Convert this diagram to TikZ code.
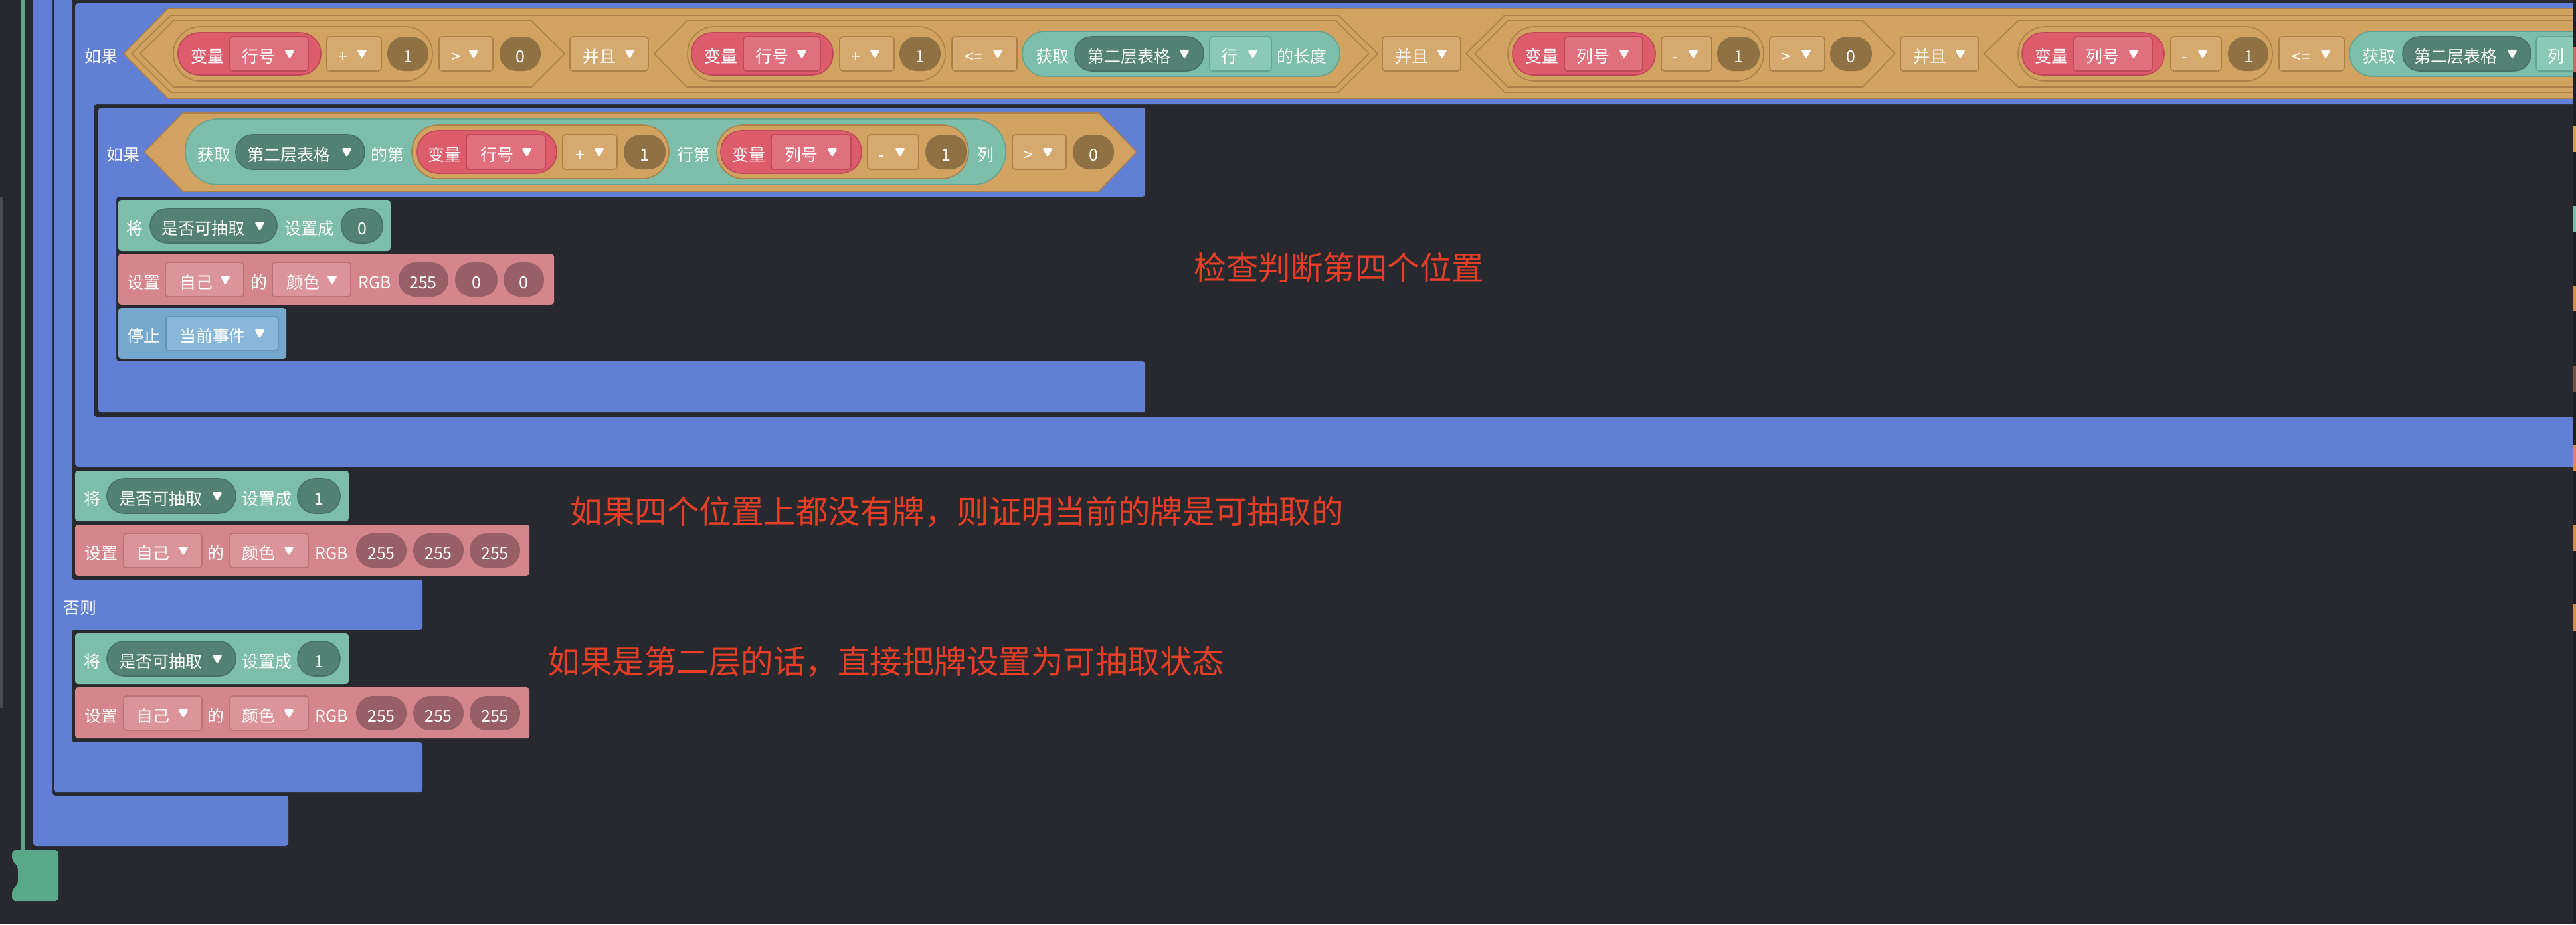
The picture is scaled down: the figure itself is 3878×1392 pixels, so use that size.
\documentclass[tikz,border=0pt]{standalone}
\usepackage{fontspec}
\newfontfamily\cjkfont{Noto Sans CJK SC}
\definecolor{bgdark}{RGB}{40,41,46}
\definecolor{scrollgray}{RGB}{74,75,80}
\definecolor{edgedark}{RGB}{30,31,35}
\definecolor{edgeorange}{RGB}{210,140,80}
\definecolor{edgebrown}{RGB}{110,84,70}
\definecolor{evgreen}{RGB}{88,168,138}
\definecolor{ctlblue}{RGB}{97,127,212}
\definecolor{logic}{RGB}{209,162,96}
\definecolor{logicbox}{RGB}{214,170,110}
\definecolor{logicline}{RGB}{172,128,72}
\definecolor{numbrown}{RGB}{143,113,68}
\definecolor{varred}{RGB}{220,92,108}
\definecolor{varbox}{RGB}{225,112,126}
\definecolor{varline}{RGB}{188,72,88}
\definecolor{tealc}{RGB}{124,190,170}
\definecolor{tealline}{RGB}{100,164,145}
\definecolor{tealdark}{RGB}{83,130,116}
\definecolor{tealdarkline}{RGB}{70,112,100}
\definecolor{teallight}{RGB}{139,200,182}
\definecolor{pinkc}{RGB}{212,134,140}
\definecolor{pinkbox}{RGB}{219,148,153}
\definecolor{pinkline}{RGB}{190,112,118}
\definecolor{pinknum}{RGB}{152,96,102}
\definecolor{stopc}{RGB}{118,168,206}
\definecolor{stopbox}{RGB}{137,183,217}
\definecolor{stopline}{RGB}{100,148,188}
\definecolor{notered}{RGB}{232,62,38}
\newcommand{\dropmark}[2]{\fill[white,rounded corners=0.3mm] (#1-8,#2-6) -- (#1+8,#2-6) -- (#1,#2+8) -- cycle;}

\begin{document}
\begin{tikzpicture}[x=0.1mm,y=-0.1mm,line join=round,
  lbl/.style={text=white,inner sep=0pt,font=\cjkfont\fontsize{7.1pt}{8pt}\selectfont,text height=0.88em,text depth=0.12em},
  note/.style={text=notered,inner sep=0pt,anchor=west,font=\cjkfont\fontsize{13.8pt}{16pt}\selectfont,text height=0.88em,text depth=0.12em},
  ctl/.style={fill=ctlblue,rounded corners=0.45mm},
  hexb/.style={fill=logic,draw=logicline,line width=0.45pt},
  opbox/.style={fill=logicbox,draw=logicline,line width=0.45pt,rounded corners=0.45mm},
  numc/.style={fill=numbrown,rounded corners=2.55mm},
  varpill/.style={fill=varred,draw=varline,line width=0.45pt,rounded corners=3.15mm},
  varfield/.style={fill=varbox,draw=varline,line width=0.45pt,rounded corners=0.45mm},
  logpill/.style={fill=logic,draw=logicline,line width=0.45pt,rounded corners=4.05mm},
  tealpill/.style={fill=tealc,draw=tealline,line width=0.45pt},
  tealdrop/.style={fill=tealdark,draw=tealdarkline,line width=0.45pt,rounded corners=2.55mm},
  tealfield/.style={fill=teallight,draw=tealline,line width=0.45pt,rounded corners=0.45mm},
  setblk/.style={fill=tealc,rounded corners=0.45mm},
  colblk/.style={fill=pinkc,rounded corners=0.45mm},
  colfield/.style={fill=pinkbox,draw=pinkline,line width=0.45pt,rounded corners=0.45mm},
  colnum/.style={fill=pinknum,rounded corners=2.55mm},
  stopblk/.style={fill=stopc,rounded corners=0.45mm},
  stopfield/.style={fill=stopbox,draw=stopline,line width=0.45pt,rounded corners=0.45mm}]
\fill[bgdark] (0,0) rectangle (3878,1392);
\useasboundingbox (0,0) rectangle (3878,1392);
\fill[scrollgray] (0,297) rectangle (4,1066);
% event hat arm and foot
\fill[evgreen] (31,-5) rectangle (37,1284);
\fill[evgreen,rounded corners=0.5mm] (18,1280) -- (88,1280) -- (88,1357) -- (18,1357) -- (18,1341) -- (27,1331) -- (27,1305) -- (18,1295) -- cycle;
% control blocks
\fill[ctl] (50,-10) -- (79,-10) -- (79,1198) -- (434,1198) -- (434,1274) -- (50,1274) -- cycle;
\fill[ctl] (82,-10) -- (108,-10) -- (108,873) -- (636,873) -- (636,948) -- (108,948) -- (108,1118) -- (636,1118) -- (636,1193) -- (82,1193) -- cycle;
\fill[ctl] (113,5) -- (3900,5) -- (3900,157) -- (141,157) -- (141,628) -- (3900,628) -- (3900,703) -- (113,703) -- cycle;
\fill[ctl] (148,162) -- (1724,162) -- (1724,296) -- (175,296) -- (175,544) -- (1724,544) -- (1724,621) -- (148,621) -- cycle;
% first condition row
\node[lbl] (ifa) at (152,81) {如果};
\draw[hexb] (186,81) -- (253,13) -- (3900,13) -- (3900,148) -- (253,148) -- cycle;
\draw[hexb] (198,81) -- (257,23) -- (2015,23) -- (2074,81) -- (2015,139) -- (257,139) -- cycle;
\draw[hexb] (2207,81) -- (2265,23) -- (3900,23) -- (3900,139) -- (2265,139) -- cycle;
\draw[hexb] (211,81) -- (261,31) -- (800,31) -- (850,81) -- (800,131) -- (261,131) -- cycle;
\draw[hexb] (985,81) -- (1034,31) -- (2011,31) -- (2061,81) -- (2011,131) -- (1034,131) -- cycle;
\draw[hexb] (2220,81) -- (2270,31) -- (2804,31) -- (2853,81) -- (2804,131) -- (2270,131) -- cycle;
\draw[hexb] (2987,81) -- (3038,31) -- (3900,31) -- (3900,131) -- (3038,131) -- cycle;
\draw[logpill] (261,40) rectangle (651,122);
\draw[varpill] (268,49) rectangle (483,113);
\node[lbl] (vara) at (312,81) {变量};
\draw[varfield] (346,55) rectangle (464,107);
\node[lbl] (rowa) at (389,81) {行号}; \dropmark{436}{81}
\draw[opbox] (492,55) rectangle (574,107);
\node[lbl] (plusa) at (516,81) {+}; \dropmark{545}{81}
\fill[numc] (583,55) rectangle (645,107);
\node[lbl] (onea) at (614,81) {1};
\draw[opbox] (661,55) rectangle (742,107);
\node[lbl] (gta) at (686,81) {>}; \dropmark{713}{81}
\fill[numc] (752,55) rectangle (814,107);
\node[lbl] (zeroa) at (783,81) {0};
\draw[opbox] (858,55) rectangle (976,107);
\node[lbl] (anda) at (902,81) {并且}; \dropmark{948}{81}
\draw[logpill] (1035,40) rectangle (1423,122);
\draw[varpill] (1041,49) rectangle (1254,113);
\node[lbl] (varb) at (1085,81) {变量};
\draw[varfield] (1119,55) rectangle (1235,107);
\node[lbl] (rowb) at (1162,81) {行号}; \dropmark{1207}{81}
\draw[opbox] (1264,55) rectangle (1346,107);
\node[lbl] (plusb) at (1288,81) {+}; \dropmark{1317}{81}
\fill[numc] (1354,55) rectangle (1416,107);
\node[lbl] (oneb) at (1385,81) {1};
\draw[opbox] (1433,55) rectangle (1531,107);
\node[lbl] (leb) at (1466,81) {<=}; \dropmark{1502}{81}
\draw[tealpill,rounded corners=3.4mm] (1539,47) rectangle (2017,115);
\node[lbl] (getb) at (1584,81) {获取};
\draw[tealdrop] (1618,55) rectangle (1812,107);
\node[lbl] (tabb) at (1700,81) {第二层表格}; \dropmark{1783}{81}
\draw[tealfield] (1821,55) rectangle (1914,107);
\node[lbl] (lineb) at (1851,81) {行}; \dropmark{1886}{81}
\node[lbl] (lenb) at (1960,81) {的长度};
\draw[opbox] (2081,55) rectangle (2199,107);
\node[lbl] (andb) at (2125,81) {并且}; \dropmark{2171}{81}
\draw[logpill] (2270,40) rectangle (2655,122);
\draw[varpill] (2277,49) rectangle (2492,113);
\node[lbl] (varc) at (2321,81) {变量};
\draw[varfield] (2355,55) rectangle (2473,107);
\node[lbl] (colc) at (2398,81) {列号}; \dropmark{2445}{81}
\draw[opbox] (2501,55) rectangle (2577,107);
\node[lbl] (minusc) at (2522,81) {-}; \dropmark{2549}{81}
\fill[numc] (2585,55) rectangle (2649,107);
\node[lbl] (onec) at (2617,81) {1};
\draw[opbox] (2664,55) rectangle (2747,107);
\node[lbl] (gtc) at (2688,81) {>}; \dropmark{2719}{81}
\fill[numc] (2755,55) rectangle (2818,107);
\node[lbl] (zeroc) at (2786,81) {0};
\draw[opbox] (2861,55) rectangle (2979,107);
\node[lbl] (andc) at (2905,81) {并且}; \dropmark{2951}{81}
\draw[logpill] (3038,40) rectangle (3421,122);
\draw[varpill] (3044,49) rectangle (3258,113);
\node[lbl] (vard) at (3088,81) {变量};
\draw[varfield] (3122,55) rectangle (3240,107);
\node[lbl] (cold) at (3165,81) {列号}; \dropmark{3212}{81}
\draw[opbox] (3268,55) rectangle (3344,107);
\node[lbl] (minusd) at (3289,81) {-}; \dropmark{3316}{81}
\fill[numc] (3354,55) rectangle (3415,107);
\node[lbl] (oned) at (3385,81) {1};
\draw[opbox] (3431,55) rectangle (3529,107);
\node[lbl] (led) at (3464,81) {<=}; \dropmark{3501}{81}
\draw[tealpill,rounded corners=3.4mm] (3537,47) rectangle (3960,115);
\node[lbl] (getd) at (3581,81) {获取};
\draw[tealdrop] (3617,55) rectangle (3810,107);
\node[lbl] (tabd) at (3697,81) {第二层表格}; \dropmark{3782}{81}
\draw[tealfield] (3818,55) rectangle (3960,107);
\node[lbl] (lined) at (3848,81) {列};
% second condition row
\node[lbl] (ifb) at (185,229) {如果};
\draw[hexb] (218,229) -- (275,170) -- (1654,170) -- (1711,229) -- (1654,288) -- (275,288) -- cycle;
\draw[tealpill,rounded corners=4.9mm] (279,179) rectangle (1514,278);
\node[lbl] (gete) at (322,229) {获取};
\draw[tealdrop] (355,203) rectangle (549,255);
\node[lbl] (tabe) at (435,229) {第二层表格}; \dropmark{522}{229}
\node[lbl] (nthe) at (583,229) {的第};
\draw[logpill] (620,188) rectangle (1007,269);
\draw[varpill] (628,197) rectangle (838,261);
\node[lbl] (vare) at (669,229) {变量};
\draw[varfield] (702,203) rectangle (821,255);
\node[lbl] (rowe) at (748,229) {行号}; \dropmark{793}{229}
\draw[opbox] (847,203) rectangle (929,255);
\node[lbl] (pluse) at (873,229) {+}; \dropmark{902}{229}
\fill[numc] (939,203) rectangle (1002,255);
\node[lbl] (onee) at (970,229) {1};
\node[lbl] (rowthe) at (1044,229) {行第};
\draw[logpill] (1079,188) rectangle (1458,269);
\draw[varpill] (1085,197) rectangle (1297,261);
\node[lbl] (varf) at (1127,229) {变量};
\draw[varfield] (1161,203) rectangle (1281,255);
\node[lbl] (colf) at (1206,229) {列号}; \dropmark{1253}{229}
\draw[opbox] (1306,203) rectangle (1383,255);
\node[lbl] (minusf) at (1327,229) {-}; \dropmark{1355}{229}
\fill[numc] (1393,203) rectangle (1456,255);
\node[lbl] (onef) at (1424,229) {1};
\node[lbl] (colthf) at (1484,229) {列};
\draw[opbox] (1524,203) rectangle (1605,255);
\node[lbl] (gtf) at (1548,229) {>}; \dropmark{1577}{229}
\fill[numc] (1615,203) rectangle (1677,255);
\node[lbl] (zerof) at (1646,229) {0};
% inner stack
\fill[setblk] (178,301) rectangle (588,378);
\node[lbl] (seta) at (203,340) {将};
\draw[tealdrop] (226,314) rectangle (417,366);
\node[lbl] (flaga) at (306,340) {是否可抽取}; \dropmark{391}{340}
\node[lbl] (toa) at (466,340) {设置成};
\draw[tealdrop] (514,314) rectangle (576,366);
\node[lbl] (vala) at (545,340) {0};
\fill[colblk] (178,382) rectangle (834,459);
\node[lbl] (paina) at (216,421) {设置};
\draw[colfield] (249,395) rectangle (367,447);
\node[lbl] (selfa) at (295,421) {自己}; \dropmark{339}{421}
\node[lbl] (ofa) at (390,421) {的};
\draw[colfield] (410,395) rectangle (528,447);
\node[lbl] (huea) at (456,421) {颜色}; \dropmark{500}{421}
\node[lbl] (rgba) at (564,421) {RGB};
\fill[colnum] (600,395) rectangle (675,447);
\node[lbl] (ra) at (637,421) {255};
\fill[colnum] (685,395) rectangle (749,447);
\node[lbl] (ga) at (717,421) {0};
\fill[colnum] (758,395) rectangle (819,447);
\node[lbl] (ba) at (788,421) {0};
\fill[stopblk] (178,464) rectangle (431,540);
\node[lbl] (halt) at (216,502) {停止};
\draw[stopfield] (250,477) rectangle (419,528);
\node[lbl] (evt) at (320,502) {当前事件}; \dropmark{391}{502}
% after the checks
\begin{scope}[shift={(0,0)}]
\fill[setblk] (113,709) rectangle (525,785);
\node[lbl] (setb) at (139,747) {将};
\draw[tealdrop] (161,721) rectangle (355,773);
\node[lbl] (flagb) at (242,747) {是否可抽取}; \dropmark{327}{747}
\node[lbl] (tob) at (402,747) {设置成};
\draw[tealdrop] (448,721) rectangle (512,773);
\node[lbl] (valb) at (480,747) {1};
\fill[colblk] (113,790) rectangle (797,867);
\node[lbl] (paintb) at (152,829) {设置};
\draw[colfield] (186,803) rectangle (304,855);
\node[lbl] (selfb) at (230,829) {自己}; \dropmark{276}{829}
\node[lbl] (ofb) at (325,829) {的};
\draw[colfield] (346,803) rectangle (464,855);
\node[lbl] (hueb) at (389,829) {颜色}; \dropmark{435}{829}
\node[lbl] (rgbb) at (499,829) {RGB};
\fill[colnum] (536,803) rectangle (612,855);
\node[lbl] (rb) at (574,829) {255};
\fill[colnum] (622,803) rectangle (698,855);
\node[lbl] (gb) at (660,829) {255};
\fill[colnum] (707,803) rectangle (783,855);
\node[lbl] (bb) at (745,829) {255};
\end{scope}
\node[lbl] (elsec) at (120,911) {否则};
\begin{scope}[shift={(0,245)}]
\fill[setblk] (113,709) rectangle (525,785);
\node[lbl] (setc) at (139,747) {将};
\draw[tealdrop] (161,721) rectangle (355,773);
\node[lbl] (flagc) at (242,747) {是否可抽取}; \dropmark{327}{747}
\node[lbl] (toc) at (402,747) {设置成};
\draw[tealdrop] (448,721) rectangle (512,773);
\node[lbl] (valc) at (480,747) {1};
\fill[colblk] (113,790) rectangle (797,867);
\node[lbl] (paintc) at (152,829) {设置};
\draw[colfield] (186,803) rectangle (304,855);
\node[lbl] (selfc) at (230,829) {自己}; \dropmark{276}{829}
\node[lbl] (ofc) at (325,829) {的};
\draw[colfield] (346,803) rectangle (464,855);
\node[lbl] (huec) at (389,829) {颜色}; \dropmark{435}{829}
\node[lbl] (rgbc) at (499,829) {RGB};
\fill[colnum] (536,803) rectangle (612,855);
\node[lbl] (rc) at (574,829) {255};
\fill[colnum] (622,803) rectangle (698,855);
\node[lbl] (gc) at (660,829) {255};
\fill[colnum] (707,803) rectangle (783,855);
\node[lbl] (bc) at (745,829) {255};
\end{scope}
% notes
\node[note] (notea) at (1797,408) {检查判断第四个位置};
\node[note] (noteb) at (858,775) {如果四个位置上都没有牌，则证明当前的牌是可抽取的};
\node[note] (notec) at (824,1001) {如果是第二层的话，直接把牌设置为可抽取状态};
% clipped edge
\fill[edgedark] (3874,0) rectangle (3878,1392);
\fill[varred] (3874,71) rectangle (3878,109);
\fill[logic] (3874,189) rectangle (3878,229);
\fill[tealc] (3874,310) rectangle (3878,349);
\fill[edgeorange] (3874,430) rectangle (3878,469);
\fill[edgebrown] (3874,551) rectangle (3878,590);
\fill[edgeorange] (3874,670) rectangle (3878,710);
\fill[edgeorange] (3874,790) rectangle (3878,830);
\fill[edgeorange] (3874,910) rectangle (3878,950);
\end{tikzpicture}
\end{document}
